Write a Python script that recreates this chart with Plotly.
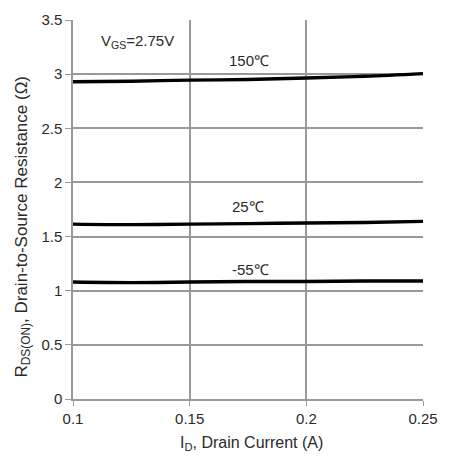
import plotly.graph_objects as go

current_a = [0.1, 0.125, 0.15, 0.175, 0.2, 0.225, 0.25]
r_150c = [2.93, 2.935, 2.945, 2.95, 2.965, 2.98, 3.005]
r_25c = [1.615, 1.61, 1.615, 1.62, 1.625, 1.63, 1.64]
r_m55c = [1.08, 1.075, 1.08, 1.085, 1.085, 1.09, 1.09]

labels = ["150℃", "25℃", "-55℃"]
label_x = [0.1755, 0.1751, 0.176]
label_y = [3.13, 1.78, 1.20]

x_ticks = [0.1, 0.15, 0.2, 0.25]
x_tick_text = ["0.1", "0.15", "0.2", "0.25"]
y_ticks = [0, 0.5, 1, 1.5, 2, 2.5, 3, 3.5]
y_tick_text = ["0", "0.5", "1", "1.5", "2", "2.5", "3", "3.5"]

font = "Liberation Sans, Arial, sans-serif"
grid = "#999999"
txt = "#2a2a2a"

fig = go.Figure()
for ys in (r_150c, r_25c, r_m55c):
    fig.add_trace(go.Scatter(x=current_a, y=ys, mode="lines",
                             line=dict(color="black", width=3.4, shape="spline"),
                             showlegend=False, hoverinfo="skip"))

for t, x, y in zip(labels, label_x, label_y):
    fig.add_annotation(x=x, y=y, text=t, showarrow=False,
                       font=dict(family=font, size=15, color=txt))
fig.add_annotation(x=0.1278, y=3.30, text="V<sub>GS</sub>=2.75V", showarrow=False,
                   font=dict(family=font, size=15, color=txt))

# axis titles placed as annotations (paper coordinates)
fig.add_annotation(xref="paper", yref="paper", x=0.509, y=-0.1186,
                   xanchor="center", yanchor="middle",
                   text="I<sub>D</sub>, Drain Current (A)", showarrow=False,
                   font=dict(family=font, size=16, color=txt))
fig.add_annotation(xref="paper", yref="paper", x=-0.144, y=0.454,
                   xanchor="center", yanchor="middle", textangle=-90,
                   text="R<sub>DS(ON)</sub>, Drain-to-Source Resistance (Ω)", showarrow=False,
                   font=dict(family=font, size=17, color=txt))

fig.update_xaxes(range=[0.1, 0.25], tickvals=x_ticks, ticktext=x_tick_text,
                 showgrid=True, gridcolor=grid, gridwidth=1.5,
                 showline=True, linecolor=grid, linewidth=1.5, mirror=False,
                 ticks="outside", ticklen=5, tickcolor=grid, zeroline=False,
                 tickfont=dict(family=font, size=15, color=txt))
fig.update_yaxes(range=[0, 3.5], tickvals=y_ticks, ticktext=y_tick_text,
                 showgrid=True, gridcolor=grid, gridwidth=1.5,
                 showline=True, linecolor=grid, linewidth=1.5,
                 ticks="outside", ticklen=6, tickcolor=grid, zeroline=False,
                 tickfont=dict(family=font, size=15, color=txt))

fig.update_layout(width=449, height=457, margin=dict(l=73, r=21, t=11, b=58),
                  paper_bgcolor="white", plot_bgcolor="white")
fig.write_html("out.html")
